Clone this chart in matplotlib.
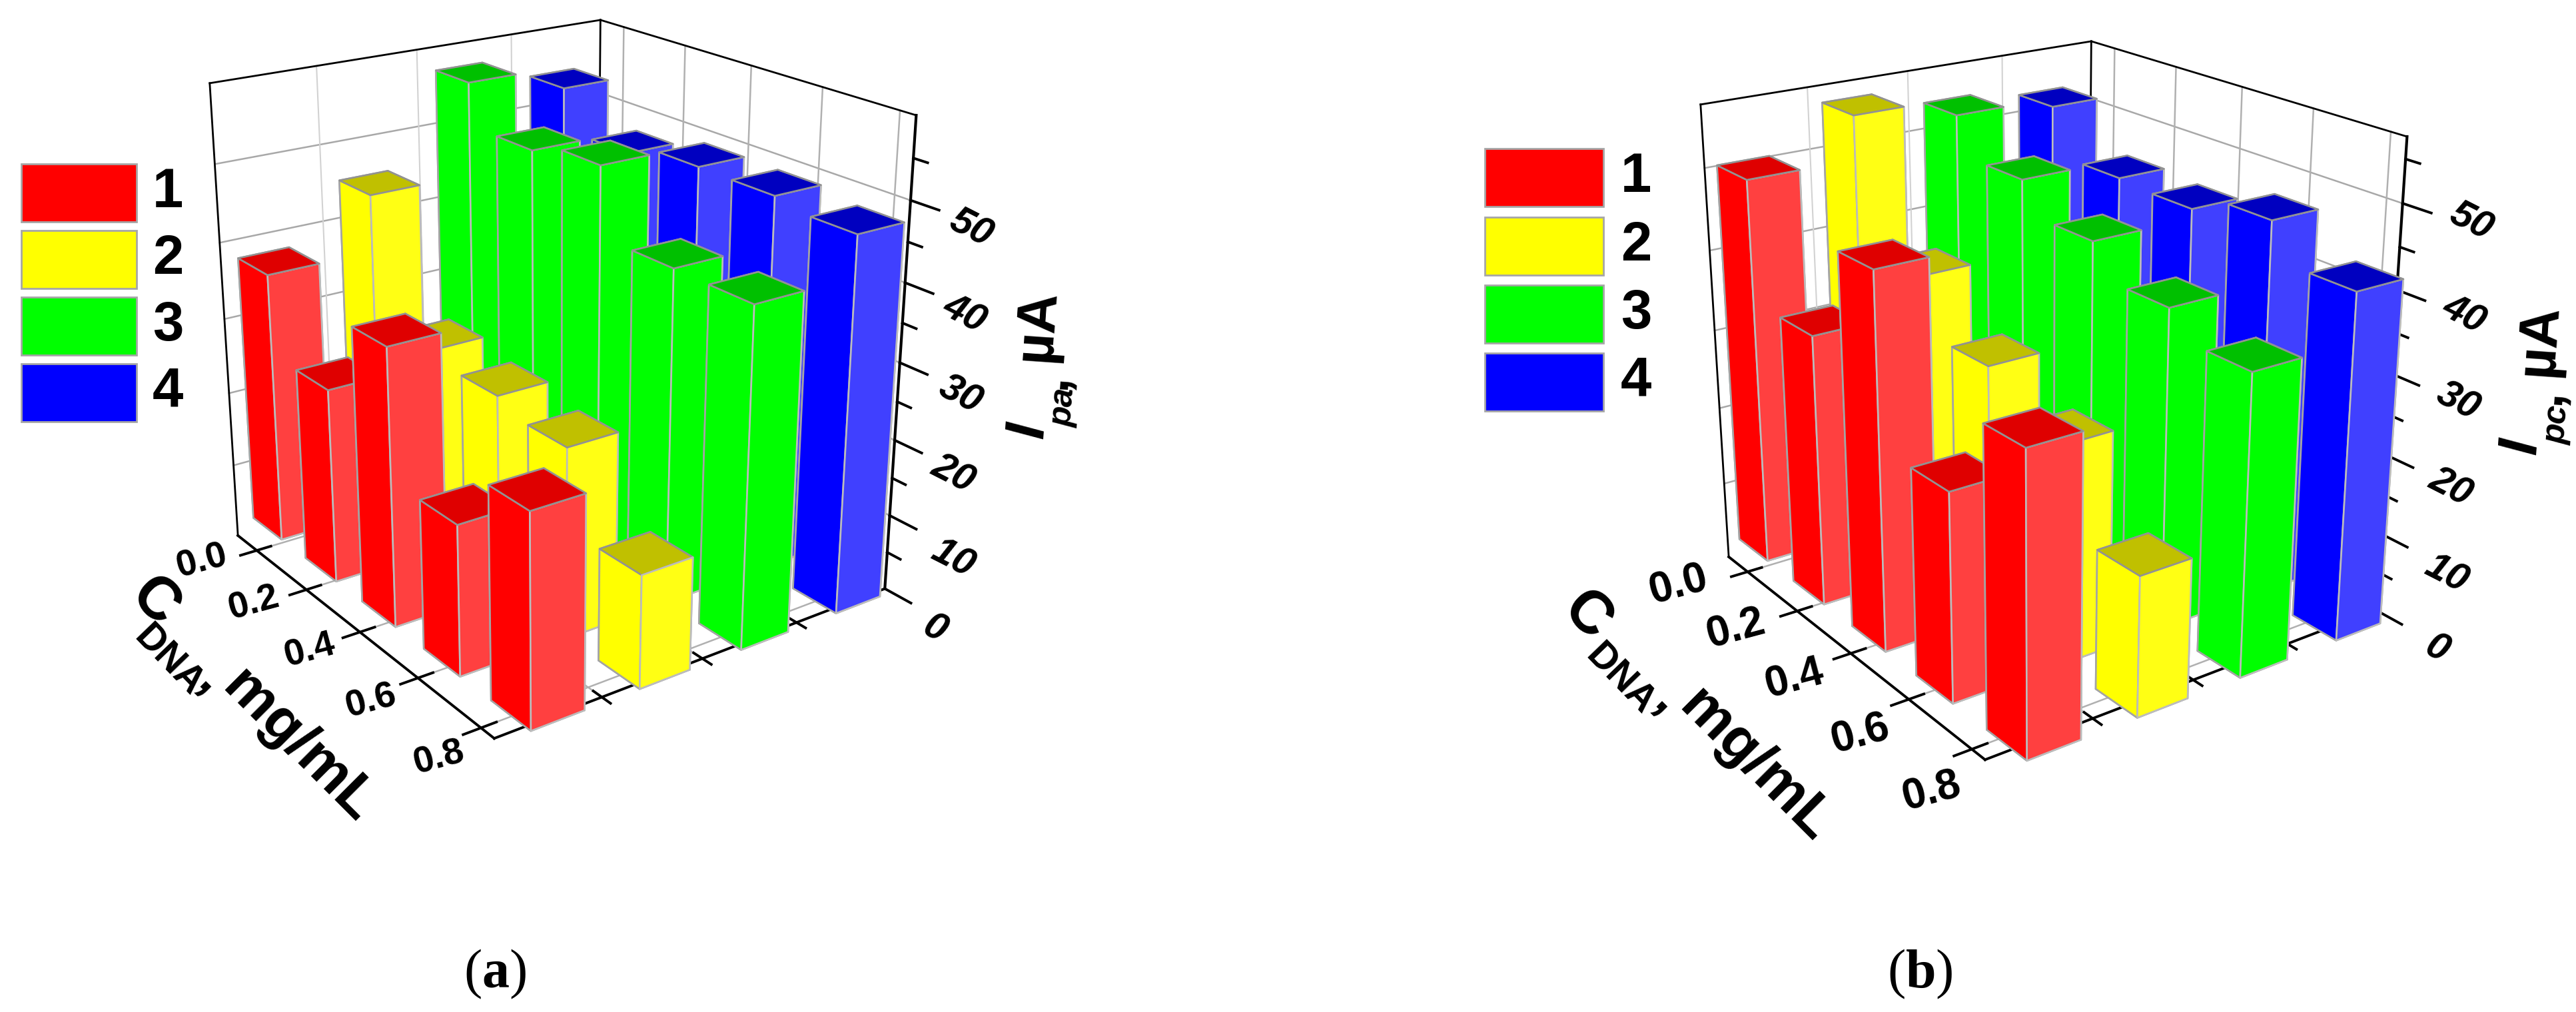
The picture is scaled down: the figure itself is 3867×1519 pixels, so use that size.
import matplotlib
matplotlib.use('Agg')
import matplotlib.pyplot as plt
from matplotlib.patches import Rectangle

W, H = 3867, 1519

conc_labels = ['0.0', '0.2', '0.4', '0.6', '0.8']
conc_values = [0.0, 0.2, 0.4, 0.6, 0.8]
series_names = ['1', '2', '3', '4']
z_ticks_major = [0, 10, 20, 30, 40, 50]
z_ticks_minor = [5, 15, 25, 35, 45, 55]

# currents, one list per series, conc 0.0 .. 0.8
ipa_1 = [36.2, 25.7, 35.8, 19.2, 26.5]
ipa_2 = [43.7, 27.4, 26.1, 24.6, 14.4]
ipa_3 = [55.9, 50.3, 51.8, 43.0, 42.9]
ipa_4 = [52.9, 47.4, 49.0, 48.9, 48.0]

ipc_1 = [48.9, 34.0, 45.8, 25.3, 35.3]
ipc_2 = [54.3, 38.2, 31.5, 26.8, 17.0]
ipc_3 = [52.1, 47.3, 43.4, 39.5, 36.5]
ipc_4 = [51.0, 45.0, 44.6, 46.8, 42.4]

left_face = ['#ff0000', '#ffff00', '#00ff00', '#0000ff']
right_face = ['#ff4040', '#ffff14', '#00ff00', '#4040ff']
top_face = ['#df0000', '#c0c000', '#00c000', '#0000c0']
EDGE = '#a6a6a6'

XMIN, XMAX = -0.08, 0.84
YMIN, YMAX = 0.0, 4.0
ZMIN = 0.0

fig = plt.figure(figsize=(W / 100, H / 100), dpi=100, facecolor='white')
plt.rcParams['font.family'] = ['Liberation Sans', 'DejaVu Sans']
plt.rcParams['mathtext.fontset'] = 'custom'
plt.rcParams['mathtext.rm'] = 'Liberation Serif'
plt.rcParams['mathtext.bf'] = 'Liberation Serif:bold'


def ptext(x, y, s, size, rot=0, **kw):
    kw.setdefault('weight', 'bold')
    fig.text(x / W, 1 - y / H, s, fontsize=size, rotation=rot,
             rotation_mode='anchor', ha=kw.pop('ha', 'center'), va=kw.pop('va', 'center'), **kw)


def panel(rect_px, view, ZMAX, values, legend_x, legend_y, num_x, conc_pos, conc_size, z_pos, parts, cfit, sfit):
    x0, y0, w, h = rect_px
    ax = fig.add_axes([x0 / W, 1 - (y0 + h) / H, w / W, h / H], projection='3d',
                      computed_zorder=False)
    ax.patch.set_alpha(0)
    ax.set_proj_type('persp', focal_length=0.383)
    ax.view_init(elev=view[0], azim=view[1])
    ax.set_box_aspect((735, 720, 745), zoom=view[2])
    ax.set_axis_off()

    z = 1
    # wall and floor grid
    for v in z_ticks_major[1:]:
        ax.plot([XMIN, XMIN], [YMIN, YMAX], [v, v], color='#a8a8a8', lw=1.8, zorder=z)
        ax.plot([XMIN, XMAX], [YMAX, YMAX], [v, v], color='#a8a8a8', lw=1.8, zorder=z)
    for s in (1, 2, 3):
        ax.plot([XMIN, XMIN], [s, s], [ZMIN, ZMAX], color='#d2d2d2', lw=1.5, zorder=z)
        ax.plot([XMIN, XMAX], [s, s], [0, 0], color='#b0b0b0', lw=1.8, zorder=z)
    for c in conc_values:
        ax.plot([c, c], [YMAX, YMAX], [ZMIN, ZMAX], color='#b0b0b0', lw=1.8, zorder=z)
        ax.plot([c, c], [YMIN, YMAX], [0, 0], color='#b0b0b0', lw=1.8, zorder=z)

    # box outline
    k = dict(color='black', zorder=z)
    ax.plot([XMIN, XMIN], [YMIN, YMIN], [ZMIN, ZMAX], lw=2, **k)
    ax.plot([XMIN, XMIN], [YMAX, YMAX], [ZMIN, ZMAX], lw=2, **k)
    ax.plot([XMIN, XMIN], [YMIN, YMAX], [ZMAX, ZMAX], lw=2, **k)
    ax.plot([XMIN, XMAX], [YMAX, YMAX], [ZMAX, ZMAX], lw=2, **k)
    ax.plot([XMAX, XMAX], [YMAX, YMAX], [ZMIN, ZMAX], lw=3, **k)
    ax.plot([XMIN, XMAX], [YMIN, YMIN], [0, 0], lw=2.8, **k)
    ax.plot([XMAX, XMAX], [YMIN, YMAX], [0, 0], lw=2.8, **k)

    # ticks
    for c in conc_values:
        ax.plot([c, c], [-0.16, 0.14], [0, 0], lw=2.8, **k)
    for s in (1, 2, 3):
        ax.plot([XMAX - 0.025, XMAX + 0.025], [s, s], [0, 0], lw=2.8, **k)
    for v in z_ticks_major:
        ax.plot([XMAX, XMAX + 0.07], [YMAX, YMAX], [v, v], lw=2.8, **k)
    for v in z_ticks_minor:
        ax.plot([XMAX, XMAX + 0.035], [YMAX, YMAX], [v, v], lw=2.8, **k)

    # bars, painted back to front
    bw, bd = 0.12, 0.50
    edge_cols = ['#a0a0a0', '#929292', '#a4a4a4', '#a4a4a4', '#a4a4a4', '#bcbcbc']
    for i, c in enumerate(conc_values):
        for j in range(3, -1, -1):
            cols = ['#000000', top_face[j], left_face[j], left_face[j], left_face[j], right_face[j]]
            coll = ax.bar3d(c * cfit[0] + cfit[1], sfit[0] + sfit[1] * j, 0, bw, bd, values[j][i],
                            color=cols, shade=False, edgecolor=edge_cols, linewidth=1.9)
            z += 1
            coll.set_zorder(z)
    ax.set_xlim(XMIN, XMAX)
    ax.set_ylim(YMIN, YMAX)
    ax.set_zlim(ZMIN, ZMAX)

    # legend
    for name, col, ly in zip(series_names, left_face, legend_y):
        fig.patches.append(Rectangle((legend_x[0] / W, 1 - (ly + 87) / H),
                                     (legend_x[1] - legend_x[0]) / W, 87 / H,
                                     transform=fig.transFigure, facecolor=col,
                                     edgecolor=EDGE, lw=2))
        ptext(num_x, ly + 43, name, 60)

    for lab, (px, py) in zip(conc_labels, conc_pos):
        ptext(px, py, lab, conc_size, rot=15)
    for v, (px, py) in zip(z_ticks_major, z_pos):
        ptext(px, py, str(v), 42, rot=-27, style='italic')
    for (px, py, s, size, rot, style) in parts:
        ptext(px, py, s, size, rot=rot, style=style)


panel((60, -219, 1500, 1500), (21.5, -35.6, 0.822), 60.0,
      [ipa_1, ipa_2, ipa_3, ipa_4], (32, 205), (246, 346, 446, 546), 252,
      [(303, 843), (381, 906), (465, 977), (557, 1053), (659, 1138)], 40,
      [(1403, 945), (1430, 839), (1431, 712), (1442, 593), (1448, 472), (1457, 343)],
      [(232, 904, 'C', 65, -45, 'normal'), (253, 992, 'DNA', 41, -46, 'normal'),
       (317, 1022, ',', 60, -45, 'normal'), (448, 1121, 'mg/mL', 63, -45, 'normal'),
       (1544, 646, 'I', 60, 86, 'italic'), (1597, 612, 'pa', 36, 86, 'italic'),
       (1577, 572, ',', 60, 86, 'normal'), (1557, 488, 'µA', 60, 86, 'normal')],
      (1.0875, -0.133), (0.28, 1.03))

panel((2298, -187, 1500, 1500), (21.5, -35.6, 0.822), 57.5,
      [ipc_1, ipc_2, ipc_3, ipc_4], (2229, 2407), (223, 326, 428, 530), 2456,
      [(2520, 879), (2606, 945), (2694, 1020), (2793, 1103), (2900, 1189)], 46,
      [(3658, 975), (3672, 862), (3679, 732), (3690, 603), (3699, 473), (3709, 333)],
      [(2382, 925, 'C', 65, -45, 'normal'), (2432, 1020, 'DNA', 41, -46, 'normal'),
       (2503, 1052, ',', 60, -45, 'normal'), (2635, 1150, 'mg/mL', 63, -45, 'normal'),
       (3785, 670, 'I', 60, 86, 'italic'), (3839, 638, 'pc', 36, 86, 'italic'),
       (3820, 595, ',', 60, 86, 'normal'), (3812, 510, 'µA', 60, 86, 'normal')],
      (1.128, -0.139), (0.245, 1.04))

fig.text(743 / W, 1 - 1462 / H, r'($\mathbf{a}$)', fontsize=59, ha='center', va='center', family='Liberation Serif')
fig.text(2882 / W, 1 - 1462 / H, r'($\mathbf{b}$)', fontsize=59, ha='center', va='center', family='Liberation Serif')

fig.savefig('out.png', dpi=100, facecolor='white')
